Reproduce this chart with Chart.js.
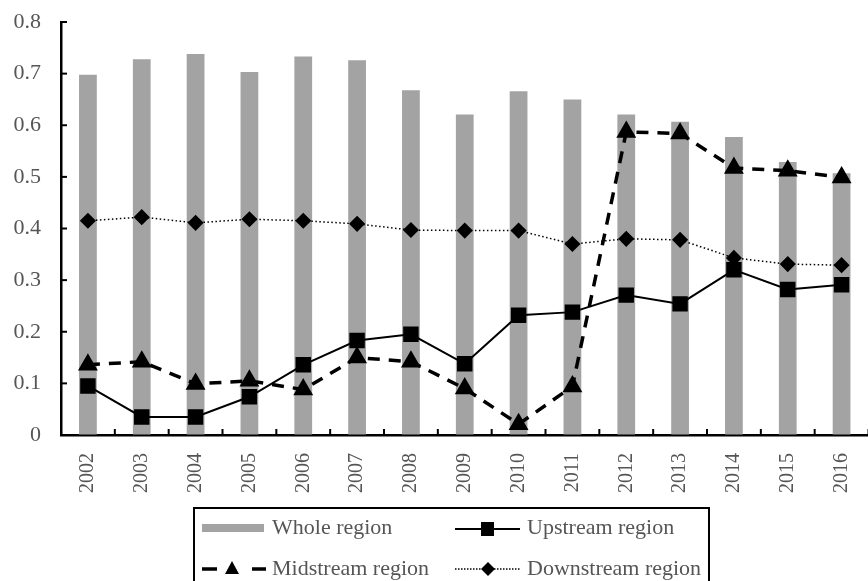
<!DOCTYPE html>
<html>
<head>
<meta charset="utf-8">
<script src="https://cdn.jsdelivr.net/npm/chart.js@4.4.1/dist/chart.umd.min.js"></script>
<style>
    html, body { margin: 0; padding: 0; background: #fff; overflow: hidden; }
    #wrap { width: 880px; height: 581px; }
</style>
</head>
<body>
<div id="wrap"><canvas id="grafico" width="880" height="581"></canvas></div>
<script>
var years = ['2002', '2003', '2004', '2005', '2006', '2007', '2008', '2009', '2010', '2011', '2012', '2013', '2014', '2015', '2016'];
var whole_region = [0.698, 0.728, 0.738, 0.703, 0.733, 0.726, 0.668, 0.621, 0.666, 0.650, 0.621, 0.607, 0.577, 0.529, 0.507];
var upstream_region = [0.095, 0.035, 0.035, 0.074, 0.136, 0.183, 0.195, 0.138, 0.232, 0.238, 0.271, 0.254, 0.320, 0.282, 0.291];
var midstream_region = [0.136, 0.142, 0.099, 0.105, 0.088, 0.150, 0.142, 0.090, 0.021, 0.094, 0.587, 0.584, 0.517, 0.512, 0.499];
var downstream_region = [0.415, 0.422, 0.411, 0.418, 0.415, 0.409, 0.397, 0.396, 0.396, 0.370, 0.380, 0.378, 0.343, 0.331, 0.329];
var y_ticks = [0, 0.1, 0.2, 0.3, 0.4, 0.5, 0.6, 0.7, 0.8];

var serif = '"Liberation Serif", "Times New Roman", serif';
var texto_color = '#555555';
var barra_color = '#a3a3a3';

// marcas hacia dentro en los ejes + leyenda con recuadro
var marcas_plugin = {
    id: 'marcas',
    afterDraw: function (chart) {
        var ctx = chart.ctx;
        var area = chart.chartArea;
        var sx = chart.scales.x;
        var sy = chart.scales.y;
        ctx.save();
        ctx.strokeStyle = '#000';
        ctx.lineWidth = 2;
        for (var i = 0; i < y_ticks.length; i++) {
            var py = sy.getPixelForValue(y_ticks[i]);
            ctx.beginPath();
            ctx.moveTo(area.left, py);
            ctx.lineTo(area.left + 6, py);
            ctx.stroke();
        }
        var ancho = sx.getPixelForValue(1) - sx.getPixelForValue(0);
        for (var j = 1; j <= years.length; j++) {
            var px = sx.getPixelForValue(j) - ancho / 2;
            ctx.beginPath();
            ctx.moveTo(px, area.bottom);
            ctx.lineTo(px, area.bottom - 6);
            ctx.stroke();
        }
        ctx.restore();
        draw_leyenda(ctx);
    }
};

function draw_leyenda(ctx) {
    var caja = { x: 194, y: 508, w: 515, h: 90 };
    var fila1 = 528;
    var fila2 = 569;
    ctx.save();
    ctx.beginPath();
    ctx.rect(caja.x, caja.y, caja.w, caja.h);
    ctx.clip();

    // Whole region
    ctx.fillStyle = barra_color;
    ctx.fillRect(202, fila1 - 4, 62, 8);

    // Upstream region
    ctx.strokeStyle = '#000';
    ctx.lineWidth = 2;
    ctx.setLineDash([]);
    ctx.beginPath();
    ctx.moveTo(455, fila1 + 1);
    ctx.lineTo(520, fila1 + 1);
    ctx.stroke();
    ctx.fillStyle = '#000';
    ctx.fillRect(481, fila1 - 6, 13, 14);

    // Midstream region
    ctx.lineWidth = 3.5;
    ctx.beginPath();
    ctx.moveTo(202, fila2);
    ctx.lineTo(217, fila2);
    ctx.moveTo(252, fila2);
    ctx.lineTo(266, fila2);
    ctx.stroke();
    ctx.beginPath();
    ctx.moveTo(232, fila2 - 8);
    ctx.lineTo(239, fila2 + 5);
    ctx.lineTo(225, fila2 + 5);
    ctx.closePath();
    ctx.fill();

    // Downstream region
    ctx.lineWidth = 1.5;
    ctx.setLineDash([1.5, 1.5]);
    ctx.beginPath();
    ctx.moveTo(455, fila2);
    ctx.lineTo(520, fila2);
    ctx.stroke();
    ctx.setLineDash([]);
    ctx.beginPath();
    ctx.moveTo(488, fila2 - 7);
    ctx.lineTo(495, fila2);
    ctx.lineTo(488, fila2 + 7);
    ctx.lineTo(481, fila2);
    ctx.closePath();
    ctx.fill();

    ctx.fillStyle = texto_color;
    ctx.font = '22px ' + serif;
    ctx.textBaseline = 'middle';
    ctx.textAlign = 'left';
    ctx.fillText('Whole region', 272, fila1);
    ctx.fillText('Upstream region', 527, fila1);
    ctx.fillText('Midstream region', 272, fila2);
    ctx.fillText('Downstream region', 527, fila2);
    ctx.restore();

    ctx.save();
    ctx.strokeStyle = '#000';
    ctx.lineWidth = 2;
    ctx.strokeRect(caja.x, caja.y, caja.w, caja.h);
    ctx.restore();
}

var ctx = document.getElementById('grafico');
var chart = new Chart(ctx, {
    type: 'bar',
    data: {
        labels: years,
        datasets: [
            {
                type: 'line',
                label: 'Upstream region',
                data: upstream_region,
                borderColor: '#000',
                backgroundColor: '#000',
                borderWidth: 2,
                tension: 0,
                pointStyle: 'rect',
                pointRadius: 9.5,
                order: 1
            },
            {
                type: 'line',
                label: 'Midstream region',
                data: midstream_region,
                borderColor: '#000',
                backgroundColor: '#000',
                borderWidth: 3.5,
                borderDash: [12, 9],
                tension: 0,
                pointStyle: 'triangle',
                pointRadius: 8,
                order: 2
            },
            {
                type: 'line',
                label: 'Downstream region',
                data: downstream_region,
                borderColor: '#000',
                backgroundColor: '#000',
                borderWidth: 1.5,
                borderDash: [1.5, 2.5],
                tension: 0,
                pointStyle: 'rectRot',
                pointRadius: 7,
                order: 3
            },
            {
                label: 'Whole region',
                data: whole_region,
                backgroundColor: barra_color,
                borderWidth: 0,
                barPercentage: 0.33,
                categoryPercentage: 1,
                order: 4
            }
        ]
    },
    options: {
        responsive: false,
        animation: false,
        layout: {
            padding: { top: 22, right: 0, left: 0, bottom: 0 }
        },
        plugins: {
            legend: { display: false },
            tooltip: { enabled: false }
        },
        scales: {
            x: {
                offset: true,
                grid: { display: true, drawOnChartArea: false, drawTicks: false },
                border: { color: '#000', width: 2.5 },
                ticks: {
                    minRotation: 90,
                    maxRotation: 90,
                    padding: 18,
                    color: texto_color,
                    font: { family: serif, size: 20 }
                },
                afterFit: function (scale) {
                    scale.height = 146;
                    scale.paddingLeft = 0;
                    scale.paddingRight = 0;
                }
            },
            y: {
                min: 0,
                max: 0.8,
                grid: { display: true, drawOnChartArea: false, drawTicks: false },
                border: { color: '#000', width: 2.5 },
                ticks: {
                    stepSize: 0.1,
                    padding: 20,
                    color: texto_color,
                    font: { family: serif, size: 22 },
                    callback: function (value) {
                        return value === 0 ? '0' : value.toFixed(1);
                    }
                },
                afterFit: function (scale) {
                    scale.width = 61;
                    scale.paddingTop = 0;
                    scale.paddingBottom = 0;
                }
            }
        }
    },
    plugins: [marcas_plugin]
});
</script>
</body>
</html>
